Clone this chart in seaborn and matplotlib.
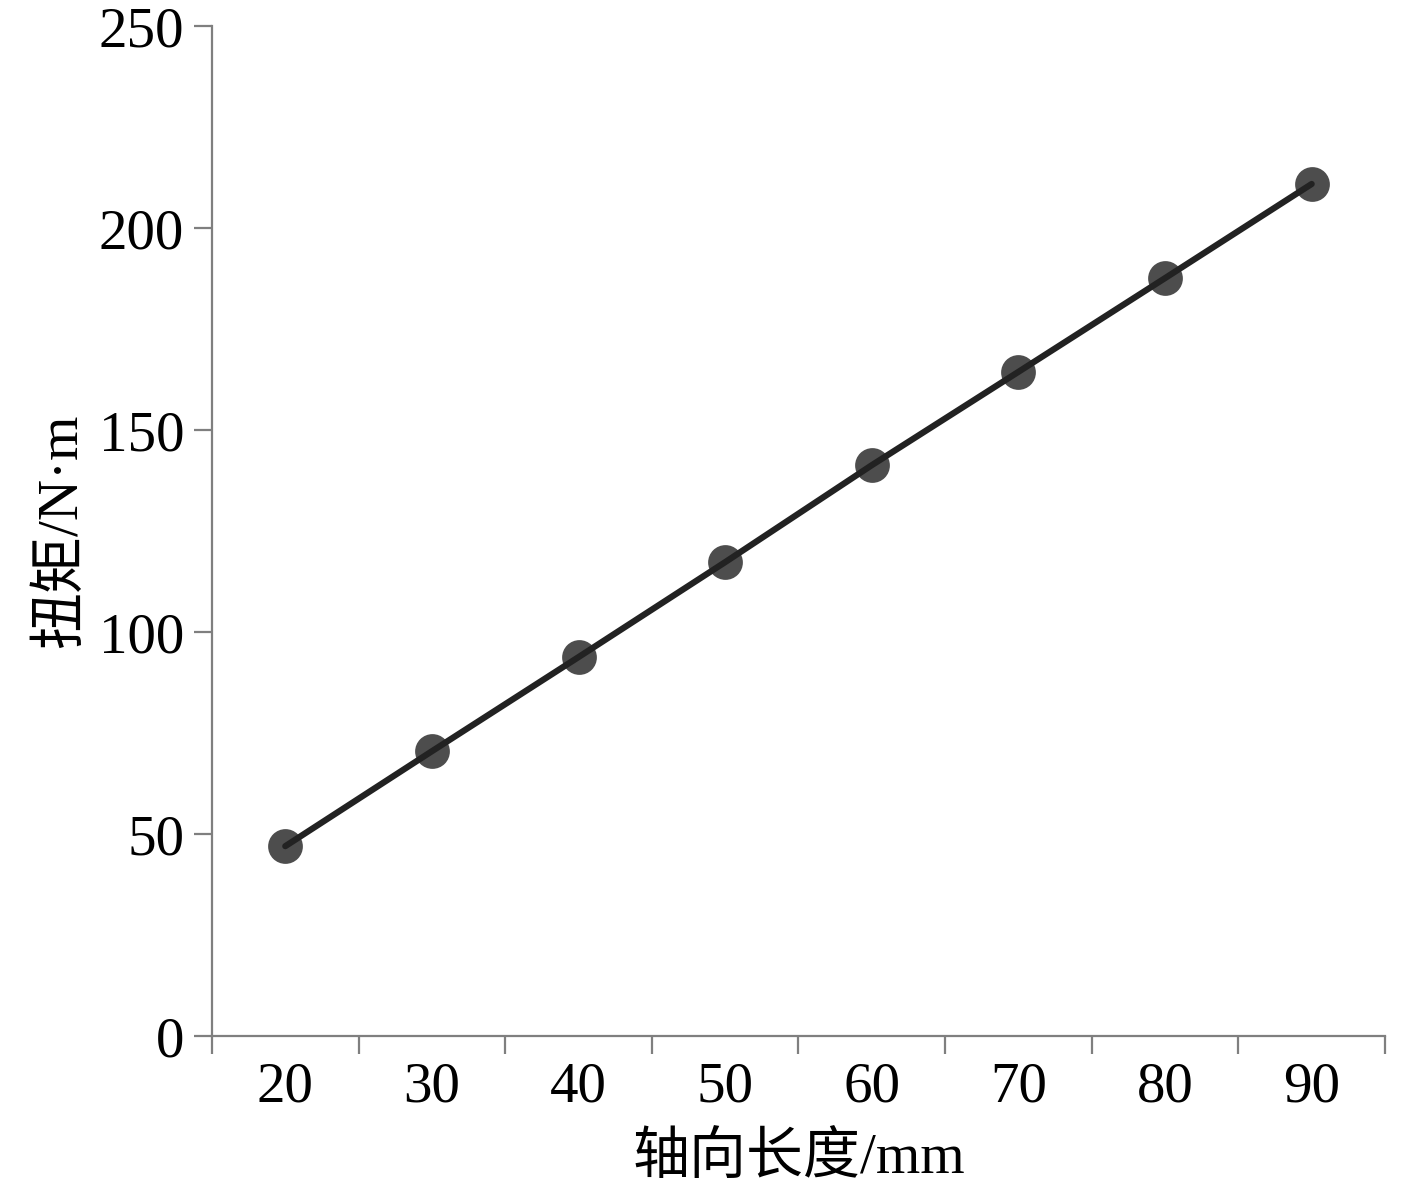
import numpy as np
import pandas as pd
import matplotlib
matplotlib.use("Agg")
import matplotlib.pyplot as plt
import seaborn as sns

# ------------------------------
# Data
# ------------------------------
length_mm = ["20", "30", "40", "50", "60", "70", "80", "90"]
torque_nm = [47.0, 70.5, 93.8, 117.3, 141.3, 164.4, 187.6, 210.9]
y_ticks = [0, 50, 100, 150, 200, 250]

df = pd.DataFrame({"length": length_mm, "torque": torque_nm})

sns.set_style("ticks")
plt.rcParams["font.family"] = ["Liberation Serif", "Noto Sans CJK SC"]
plt.rcParams["font.size"] = 41
plt.rcParams["text.color"] = "black"
plt.rcParams["axes.labelcolor"] = "black"
plt.rcParams["xtick.labelcolor"] = "black"
plt.rcParams["ytick.labelcolor"] = "black"

fig = plt.figure(figsize=(14.17, 11.88), dpi=100)
ax = fig.add_axes([0.1496, 0.1279, 0.8278, 0.8502])

axis_grey = "#7f7f7f"

# markers
sns.pointplot(data=df, x="length", y="torque", color="#4d4d4d",
              linestyle="none", markers="o", markersize=23, ax=ax, zorder=2)
# line through the points
sns.lineplot(x=np.arange(len(length_mm)), y=torque_nm, color="#222222",
             linewidth=4.5, ax=ax, zorder=3)

ax.set_xlim(-0.5, len(length_mm) - 0.5)
ax.set_ylim(0, 250)
ax.set_yticks(y_ticks)
ax.set_yticklabels([str(v) for v in y_ticks])

# boundary ticks (major) and centred labels (minor)
ax.set_xticks(np.arange(-0.5, len(length_mm), 1.0))
ax.set_xticklabels([])
ax.set_xticks(np.arange(len(length_mm)), minor=True)
ax.set_xticklabels(length_mm, minor=True)

ax.tick_params(axis="x", which="major", length=13, width=1.6, color=axis_grey, direction="out")
ax.tick_params(axis="x", which="minor", length=0, pad=18, labelsize=41)
ax.tick_params(axis="y", length=13, width=1.6, color=axis_grey, direction="out",
               pad=7, labelsize=41)

sns.despine(ax=ax)
for side in ["left", "bottom"]:
    ax.spines[side].set_color(axis_grey)
    ax.spines[side].set_linewidth(1.6)

ax.set_xlabel("轴向长度/mm", fontsize=41, labelpad=14)
ax.set_ylabel("扭矩/N·m", fontsize=41, labelpad=8)

fig.savefig("out.png", dpi=100)
